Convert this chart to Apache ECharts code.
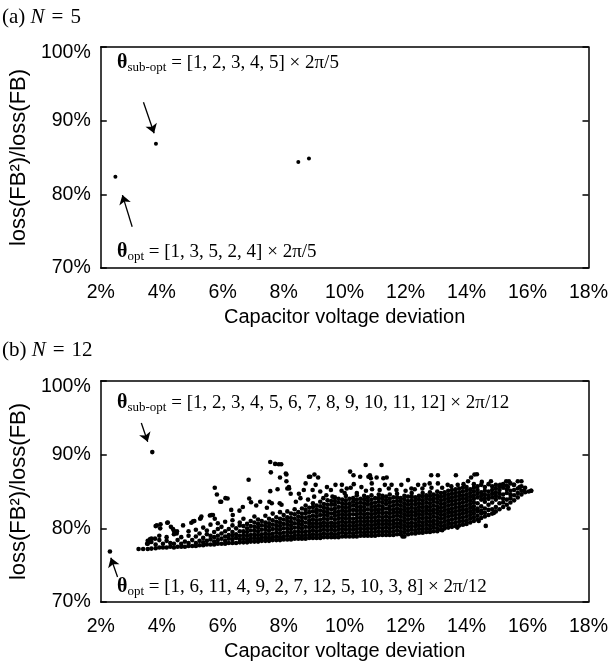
<!DOCTYPE html>
<html><head><meta charset="utf-8">
<script src="https://cdn.jsdelivr.net/npm/echarts@6/dist/echarts.min.js"></script>
<style>html,body{margin:0;padding:0;background:#fff}#c{width:611px;height:666px}</style>
</head><body><div id="c"></div>
<script>
// ---- data ----
const xTickValues = [2, 4, 6, 8, 10, 12, 14, 16, 18];
const yTickValues = [70, 80, 90, 100];
// (a) N = 5 : [capacitor voltage deviation %, loss ratio %]
const n5Points = [[2.48, 82.4], [3.81, 86.85], [8.48, 84.4], [8.83, 84.85]];
// (b) N = 12
const n12Opt = [2.30, 76.85];
const n12SubOpt = [3.69, 90.35];
// dense cloud, by columns: [x, y1, y2, ...]
const n12Columns = [
[3.24,77.2],[3.39,77.2],[3.54,77.2,77.9,78.3],[3.66,77.25,78.15,78.6],
[3.80,77.3,77.8],[3.92,77.4,78.4,79.0],[4.04,77.4,77.9],[4.16,77.4,78.3,78.8],[4.28,77.5,78.0],[4.40,77.4,77.9,79.2],
[4.52,77.5,78.4],[4.64,77.5,77.9,78.8],[4.76,77.5,78.2],[4.88,77.6,78.0,79.0,79.6],[5.00,77.6,78.4],[5.12,77.6,78.0,78.9,79.8],
[5.24,77.7,78.3,79.3],[5.36,77.7,78.1,78.7,80.1],[5.48,77.8,78.3,79.2,79.7],[5.60,77.8,78.5,79.0,80.5],[5.72,77.8,78.2,78.8,79.5],
[5.84,77.9,78.4,79.0,79.9,80.7],[5.96,77.9,78.6,79.3,80.2],[6.08,77.9,78.3,78.9,79.6,80.9],[6.20,78.0,78.6,79.1,79.9],
[6.32,78.0,78.5,79.0,79.5,80.4,81.1],[6.44,78.0,78.7,79.2,80.0],[6.56,78.1,78.5,79.0,79.6,80.4,80.8],
[6.68,78.1,78.6,79.1,79.6,80.3,81.3],[6.80,78.1,78.5,79.0,79.5,80.0,80.6],[6.92,78.2,78.6,79.1,79.7,80.3,81.0],[7.04,78.2,78.7,79.2,79.7,80.2,80.8,81.6],
[7.16,78.2,78.6,79.1,79.6,80.1,80.6,81.2],[7.28,78.3,78.7,79.2,79.8,80.4,81.0],[7.40,78.3,78.8,79.3,79.8,80.3,80.8,81.7],[7.52,78.3,78.7,79.2,79.7,80.2,80.7,81.3],
[7.64,78.4,78.8,79.3,79.9,80.5,81.1,82.0],[7.76,78.4,78.9,79.4,79.9,80.4,80.9,81.5],[7.88,78.4,78.8,79.3,79.8,80.3,80.8,81.3,82.2],[8.00,78.5,78.9,79.4,80.0,80.6,81.2,81.8],
[8.12,78.5,79.0,79.5,80.0,80.5,81.0,81.5,82.3],[8.24,78.5,78.9,79.4,79.9,80.4,80.9,81.4,82.0],[8.36,78.6,79.0,79.5,80.1,80.7,81.3,81.9,82.6],[8.48,78.6,79.1,79.6,80.1,80.6,81.1,81.6,82.2],
[8.60,78.6,79.0,79.5,80.0,80.5,81.0,81.5,82.0,82.7],[8.72,78.6,79.1,79.6,80.2,80.8,81.4,82.0,82.5,83.1],[8.84,78.7,79.1,79.6,80.1,80.6,81.1,81.6,82.2,82.8],[8.96,78.7,79.2,79.7,80.2,80.7,81.2,81.7,82.3,82.9,83.4],
[9.08,78.7,79.1,79.6,80.1,80.6,81.1,81.6,82.1,82.6,83.1],[9.20,78.7,79.2,79.7,80.2,80.7,81.2,81.8,82.4,83.0,83.6],[9.32,78.8,79.3,79.8,80.3,80.8,81.3,81.8,82.3,82.8,83.3],[9.44,78.8,79.2,79.7,80.2,80.7,81.2,81.7,82.2,82.7,83.2,83.8],
[9.56,78.8,79.3,79.8,80.3,80.8,81.4,82.0,82.6,83.2,83.7],[9.68,78.8,79.2,79.7,80.2,80.7,81.2,81.7,82.2,82.7,83.2,83.7,84.2],[9.80,78.8,79.3,79.8,80.3,80.8,81.3,81.8,82.3,82.9,83.5,84.0],[9.92,78.9,79.4,79.9,80.4,80.9,81.4,81.9,82.4,82.9,83.4,83.9],
[10.04,78.9,79.3,79.8,80.3,80.8,81.3,81.8,82.3,82.8,83.3,83.8,84.4],[10.16,78.9,79.4,79.9,80.4,80.9,81.4,81.9,82.4,82.9,83.4,84.0],[10.28,78.9,79.3,79.8,80.3,80.8,81.3,81.9,82.5,83.1,83.6,84.1],[10.40,78.9,79.4,79.9,80.4,80.9,81.4,81.9,82.4,82.9,83.4,83.9,84.5],
[10.52,79.0,79.5,80.0,80.5,81.0,81.5,82.0,82.5,83.0,83.5,84.0],[10.64,79.0,79.4,79.9,80.4,80.9,81.4,81.9,82.4,82.9,83.4,83.9,84.4],[10.76,79.0,79.5,80.0,80.5,81.0,81.5,82.0,82.6,83.2,83.7,84.2],[10.88,79.0,79.4,79.9,80.4,80.9,81.4,81.9,82.4,82.9,83.4,83.9,84.5],
[11.00,79.0,79.5,80.0,80.5,81.0,81.5,82.0,82.5,83.0,83.5,84.1],[11.12,79.1,79.6,80.1,80.6,81.1,81.6,82.1,82.6,83.1,83.6,84.1,84.6],[11.24,79.1,79.5,80.0,80.5,81.0,81.5,82.0,82.5,83.0,83.5,84.0,84.4],[11.36,79.1,79.6,80.1,80.6,81.1,81.6,82.1,82.7,83.3,83.8,84.3],
[11.48,79.1,79.5,80.0,80.5,81.0,81.5,82.0,82.5,83.0,83.5,84.0,84.6],[11.60,79.1,79.6,80.1,80.6,81.1,81.6,82.1,82.6,83.1,83.6,84.2],[11.72,79.2,79.7,80.2,80.7,81.2,81.7,82.2,82.7,83.2,83.7,84.2,84.7],[11.84,79.2,79.6,80.1,80.6,81.1,81.6,82.1,82.6,83.1,83.6,84.1],
[11.96,78.9,79.4,79.9,80.4,80.9,81.4,81.9,82.4,82.9,83.4,83.9,84.4],[12.08,79.2,79.7,80.2,80.7,81.2,81.7,82.2,82.7,83.2,83.7,84.3],[12.20,79.3,79.8,80.3,80.8,81.3,81.8,82.3,82.8,83.3,83.8,84.3,84.8],[12.32,79.3,79.7,80.2,80.7,81.2,81.7,82.2,82.7,83.2,83.7,84.2],
[12.44,79.4,79.9,80.4,80.9,81.4,81.9,82.4,82.9,83.4,83.9,84.4],[12.56,79.4,79.8,80.3,80.8,81.3,81.8,82.3,82.8,83.3,83.8,84.3,84.8],[12.68,79.5,80.0,80.5,81.0,81.5,82.0,82.5,83.0,83.5,84.0,84.5],[12.80,79.5,79.9,80.4,80.9,81.4,81.9,82.4,82.9,83.4,83.9,84.4,84.9],
[12.92,79.6,80.1,80.6,81.1,81.6,82.1,82.6,83.1,83.6,84.1,84.6],[13.04,79.6,80.0,80.5,81.0,81.5,82.0,82.5,83.0,83.5,84.0,84.5,85.0],[13.16,79.8,80.3,80.8,81.3,81.8,82.3,82.8,83.3,83.8,84.3,84.8],[13.28,80.0,80.4,80.9,81.4,81.9,82.4,82.9,83.4,83.9,84.4,84.9],
[13.40,80.1,80.6,81.1,81.6,82.1,82.6,83.1,83.6,84.1,84.6,85.1],[13.52,80.2,80.7,81.2,81.7,82.2,82.7,83.2,83.7,84.2,84.7,85.2],[13.64,80.3,80.8,81.3,81.8,82.3,82.8,83.3,83.8,84.3,84.8,85.3],[13.76,80.4,80.9,81.4,81.9,82.4,82.9,83.4,83.9,84.4,84.9,85.4],
[13.88,80.5,81.0,81.5,82.0,82.5,83.0,83.5,84.0,84.5,85.0,85.5],[14.00,80.6,81.1,81.6,82.1,82.6,83.1,83.6,84.1,84.6,85.1,85.6],[14.12,80.8,81.3,81.8,82.3,82.8,83.3,83.8,84.3,84.8,85.3],[14.24,81.0,81.5,82.0,82.5,83.0,83.5,84.0,84.5,85.0,85.5,86.0],
[14.36,81.2,81.7,82.3,82.7,83.4,84.2,84.7,85.2,85.7],[14.48,81.4,82.0,82.4,83.0,83.9,84.4,84.9,85.9],[14.60,81.6,82.1,82.7,83.6,84.1,84.6,85.1,85.6],[14.72,81.8,82.5,83.2,84.0,84.5,85.0,86.0],
[14.84,82.0,82.6,83.5,84.2,84.7,85.2,85.7],[14.96,82.3,82.9,83.9,84.4,84.9,85.4,85.9],[15.08,82.6,83.4,84.2,84.7,85.2,85.7],[15.20,82.9,83.5,84.0,84.6,85.5,86.0],
[15.32,83.2,83.9,84.8,85.3,85.8],[15.44,83.5,84.1,84.6,85.1,86.1],[15.56,83.8,84.5,85.2,85.9],[15.68,84.2,84.8,85.4,86.4],
[15.80,84.6,85.1,85.7,86.4],[15.92,84.9,85.5],[16.04,85.0],[16.12,85.1]
];
// scattered and outlying points of (b): [x, y]
const n12Sparse = [
[3.52,77.9],[3.61,78.5],[3.78,78.6],[3.62,78.15],[3.80,80.3],[3.84,80.4],[3.95,80.0],[3.96,80.55],[4.18,80.75],[4.20,80.8],
[4.30,80.2],[4.37,79.9],[4.40,79.65],[4.49,79.3],[4.50,79.6],[4.70,80.4],[4.97,80.75],[5.03,80.95],[5.07,81.0],[5.26,81.3],
[5.28,81.4],[5.30,81.6],[5.58,81.75],[5.63,81.8],[5.68,81.8],[5.74,81.3],[5.92,83.6],[5.95,83.6],[6.09,84.1],[6.16,84.05],
[6.28,82.5],[6.33,81.8],[6.66,82.9],[6.55,82.4],[6.87,84.05],[6.93,83.55],[7.10,83.1],[7.23,83.6],[7.53,83.6],[7.45,82.8],
[7.61,83.4],[7.87,83.4],[7.93,83.2],[5.74,85.5],[5.81,84.6],[6.85,86.6],
[7.56,89.0],[7.72,88.75],[7.84,88.7],[7.92,88.7],[7.58,87.6],[7.88,86.9],[8.09,87.3],[8.09,86.4],
[7.56,85.05],[7.80,85.3],[8.12,85.4],[8.17,85.6],[8.07,87.45],[8.18,85.4],[8.23,84.7],[8.50,84.7],
[8.66,85.2],[8.72,86.1],[8.83,87.0],[8.87,87.0],[9.01,87.3],[9.13,86.9],[9.05,85.9],[9.42,85.6],
[9.70,85.9],[9.91,85.9],[10.07,85.4],[10.18,87.7],[10.29,87.2],[10.51,87.0],[10.69,88.6],[10.78,87.0],
[10.86,86.8],[9.20,85.0],[9.40,84.5],[9.60,84.3],[9.90,85.1],[10.20,85.5],[10.40,84.8],[10.70,85.1],
[10.90,85.3],[8.40,83.6],[8.55,84.1],[8.80,83.9],[9.00,84.3],[9.30,84.1],[8.95,85.2],[9.55,85.2],
[10.00,84.8],[10.55,85.6],[10.30,86.0],[11.21,88.6],[10.83,87.2],[11.05,86.9],[11.27,86.8],[11.38,86.9],
[12.08,86.55],[12.84,87.2],[13.06,87.2],[13.65,87.2],[10.89,86.1],[11.32,85.9],[11.54,85.9],[11.86,85.9],
[12.19,85.4],[12.41,85.9],[12.62,85.9],[12.79,86.1],[13.06,86.1],[13.38,85.9],[13.71,85.9],[11.15,85.2],
[11.45,85.4],[11.70,85.2],[12.00,85.1],[12.30,85.3],[12.55,85.4],[12.85,85.5],[13.20,85.5],[13.50,85.7],
[13.90,86.0],[14.15,86.9],[14.34,87.35],[14.26,87.3],[14.05,86.4],[14.50,86.3],[14.80,86.4],[15.10,85.9],
[15.30,86.4],[15.39,86.4],[15.36,85.6],[15.74,85.6],[15.89,85.1],[16.12,85.1],[15.55,85.9],
[14.63,80.33],[15.38,82.7],[13.20,79.75],[14.40,81.0],[14.90,82.1],[13.70,80.1],[11.90,78.9]
];

// ---- chart ----
const chart = echarts.init(document.getElementById('c'), null, {renderer: 'canvas'});
const SANS = 'Liberation Sans, Arial, sans-serif';
const SERIF = 'Liberation Serif, Times New Roman, serif';
const G = [{left: 100, top: 47, width: 492, height: 221}, {left: 100, top: 381, width: 492, height: 221}];
const lineStyle = {color: '#000', width: 1.5};
const tickFont = {color: '#000', fontFamily: SANS, fontSize: 19.5};

function xAxes(gi) {
  return [
    {gridIndex: gi, type: 'value', min: 2, max: 18, interval: 2, position: 'bottom',
     axisLine: {show: true, onZero: false, lineStyle}, axisTick: {show: false}, splitLine: {show: false},
     axisLabel: Object.assign({margin: 15, formatter: v => v + '%'}, tickFont),
     name: 'Capacitor voltage deviation', nameLocation: 'middle', nameGap: 39,
     nameTextStyle: {color: '#000', fontFamily: SANS, fontSize: 20}},
    {gridIndex: gi, type: 'value', min: 2, max: 18, interval: 2, position: 'top',
     axisLine: {show: true, onZero: false, lineStyle}, axisTick: {show: false}, axisLabel: {show: false}, splitLine: {show: false}}
  ];
}
function yAxes(gi) {
  return [
    {gridIndex: gi, type: 'value', min: 70, max: 100, interval: 10, position: 'left',
     axisLine: {show: true, onZero: false, lineStyle}, axisTick: {show: true, inside: true, length: 6, lineStyle: {color: '#000', width: 1.5}},
     splitLine: {show: false},
     axisLabel: Object.assign({margin: 10,
       formatter: v => (v === yTickValues[yTickValues.length - 1] ? '{top|' + v + '%}' : v + '%'),
       rich: {top: Object.assign({padding: [12, 0, 0, 0]}, tickFont)}}, tickFont),
     name: 'loss(FB²)/loss(FB)', nameLocation: 'middle', nameGap: 64, nameRotate: 90,
     nameTextStyle: {color: '#000', fontFamily: SANS, fontSize: 22}},
    {gridIndex: gi, type: 'value', min: 70, max: 100, interval: 10, position: 'right',
     axisLine: {show: true, onZero: false, lineStyle}, axisTick: {show: true, inside: true, length: 6, lineStyle: {color: '#000', width: 1.5}},
     axisLabel: {show: false}, splitLine: {show: false}}
  ];
}

const n12Cloud = n12Columns.flatMap(c => c.slice(1).map(y => [c[0], y]));
const n12All = [n12Opt, n12SubOpt].concat(n12Cloud, n12Sparse);

const arrowLine = {silent: true, symbol: ['none', 'arrow'], symbolSize: 9, animation: false,
  lineStyle: {color: '#000', width: 1.3, type: 'solid', opacity: 1}, label: {show: false},
  emphasis: {disabled: true}};

function annot(x, y, sub, rest) {
  return {type: 'text', x: x, y: y, silent: true,
    style: {text: '{t|θ}{s|' + sub + '}{r| ' + rest + '}', verticalAlign: 'middle', align: 'left', fill: '#000',
      rich: {t: {fontFamily: SERIF, fontWeight: 'bold', fontSize: 20, fill: '#000'},
             s: {fontFamily: SERIF, fontSize: 13, padding: [9, 0, 0, 0], fill: '#000'},
             r: {fontFamily: SERIF, fontSize: 19, fill: '#000'}}}};
}
function panelTitle(x, y, letter, n) {
  return {type: 'text', x: x, y: y, silent: true,
    style: {text: '{n|(' + letter + ') }{i|N}{n|\u2004=\u2004' + n + '}', verticalAlign: 'middle', align: 'left', fill: '#000',
      rich: {n: {fontFamily: SERIF, fontSize: 21, fill: '#000'}, i: {fontFamily: SERIF, fontStyle: 'italic', fontSize: 21, fill: '#000'}}}};
}

chart.setOption({
  animation: false,
  backgroundColor: '#fff',
  grid: G,
  xAxis: xAxes(0).concat(xAxes(1)),
  yAxis: yAxes(0).concat(yAxes(1)),
  graphic: [
    panelTitle(2, 17, 'a', '5'),
    panelTitle(2, 350, 'b', '12'),
    annot(117, 63, 'sub-opt', '= [1, 2, 3, 4, 5] × 2π/5'),
    annot(117, 252, 'opt', '= [1, 3, 5, 2, 4] × 2π/5'),
    annot(117, 403, 'sub-opt', '= [1, 2, 3, 4, 5, 6, 7, 8, 9, 10, 11, 12] × 2π/12'),
    annot(117, 587, 'opt', '= [1, 6, 11, 4, 9, 2, 7, 12, 5, 10, 3, 8] × 2π/12')
  ],
  series: [
    {type: 'scatter', xAxisIndex: 0, yAxisIndex: 0, data: n5Points, symbolSize: 4,
     itemStyle: {color: '#000', opacity: 1}, silent: true,
     markLine: Object.assign({data: [
       [{coord: [3.40, 92.5]}, {coord: [3.75, 88.3]}],
       [{coord: [3.03, 75.6]}, {coord: [2.71, 79.9]}]
     ]}, arrowLine)},
    {type: 'scatter', xAxisIndex: 2, yAxisIndex: 2, data: n12All, symbolSize: 4.6,
     itemStyle: {color: '#000', opacity: 1}, silent: true,
     markLine: Object.assign({data: [
       [{coord: [3.33, 94.3]}, {coord: [3.54, 91.75]}],
       [{coord: [2.55, 73.4]}, {coord: [2.33, 76.0]}]
     ]}, arrowLine)}
  ]
});
</script></body></html>
